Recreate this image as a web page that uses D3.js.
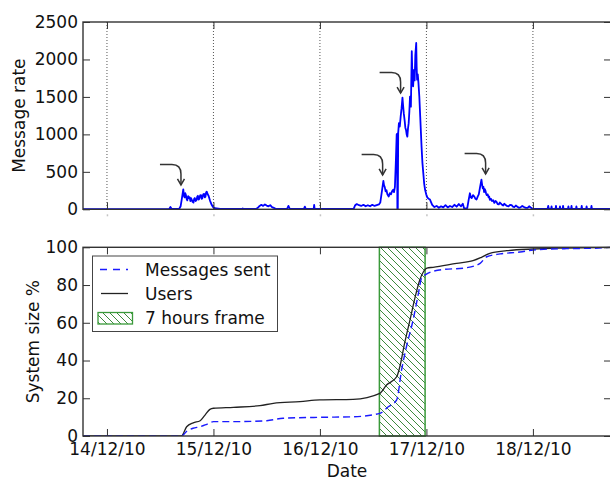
<!DOCTYPE html>
<html>
<head>
<meta charset="utf-8">
<script src="https://cdn.jsdelivr.net/npm/d3@7/dist/d3.min.js"></script>
<style>
  body { margin: 0; background: #fff; }
  svg { display: block; }
  text { font-family: "DejaVu Sans", sans-serif; fill: #111; }
</style>
</head>
<body>
<svg id="chart" width="610" height="480"></svg>
<script>
// Hours are counted from 14/12/10 00:00.
const dayTickLabels = ["14/12/10", "15/12/10", "16/12/10", "17/12/10", "18/12/10"];
const rateTicks = [0, 500, 1000, 1500, 2000, 2500];
const sizeTicks = [0, 20, 40, 60, 80, 100];
const timeSpan = [-5.4, 113.6];

// Message rate, [hour, messages]
const messageRate = [
  [-5.4, 2], [14.0, 2], [14.3, 30], [14.6, 4], [16.3, 8], [16.6, 40], [16.9, 150], [17.2, 267], [17.35, 180],
  [17.5, 160], [17.65, 215], [17.8, 190], [17.95, 140], [18.1, 120], [18.3, 175], [18.5, 150], [18.65, 160],
  [18.8, 110], [18.95, 150], [19.1, 130], [19.3, 100], [19.5, 90], [19.65, 140], [19.8, 150], [20.0, 110],
  [20.2, 125], [20.35, 170], [20.5, 180], [20.65, 130], [20.8, 140], [21.0, 185], [21.2, 190], [21.35, 140],
  [21.5, 150], [21.7, 200], [21.9, 205], [22.05, 160], [22.2, 170], [22.35, 225], [22.5, 235], [22.7, 200],
  [22.9, 180], [23.2, 120], [23.6, 60], [23.9, 30], [24.3, 15], [25.5, 4], [30.4, 4], [30.6, 12], [30.8, 4],
  [33.6, 5], [34.0, 20], [34.4, 45], [34.8, 60], [35.2, 45], [35.6, 65], [36.0, 50], [36.4, 40], [36.8, 55],
  [37.2, 30], [37.6, 20], [38.0, 6], [40.6, 5], [40.9, 45], [41.2, 5], [44.4, 5], [44.6, 35], [44.8, 5],
  [46.6, 5], [46.7, 60], [46.8, 5],
  [55.6, 5], [55.9, 50], [56.3, 70], [56.8, 55], [57.3, 45], [57.8, 60], [58.3, 40], [58.8, 55], [59.3, 40],
  [59.8, 60], [60.3, 45], [60.8, 55], [61.3, 65], [61.6, 90], [61.9, 214], [62.3, 380], [62.45, 320],
  [62.6, 300], [62.8, 240], [63.0, 255], [63.2, 200], [63.5, 170], [63.75, 215], [64.0, 200], [64.25, 240],
  [64.5, 260], [64.7, 230], [64.9, 300], [65.1, 620], [65.3, 1000], [65.4, 1010],
  [65.45, 0], [65.55, 0], [65.64, 1020], [65.8, 1150], [66.0, 1105], [66.2, 1240], [66.4, 1350], [66.6, 1490],
  [66.75, 1380], [66.9, 1280], [67.1, 1180], [67.25, 1090], [67.4, 1060], [67.55, 1000], [67.7, 970],
  [67.85, 1080], [68.0, 1150], [68.15, 1300], [68.3, 1505], [68.5, 1370], [68.7, 2110], [68.85, 1750],
  [69.0, 1640], [69.2, 1860], [69.35, 1720], [69.5, 2060], [69.7, 2220], [69.8, 1900], [69.9, 1730],
  [70.05, 1800], [70.2, 1690], [70.4, 1505], [70.6, 1240], [70.9, 840], [71.1, 620], [71.3, 480],
  [71.5, 340], [71.7, 260], [71.95, 200], [72.2, 160], [72.5, 140], [72.8, 130],
  [73.3, 60], [73.8, 30], [74.3, 45], [74.8, 20], [75.3, 40], [75.8, 25], [76.3, 55], [76.8, 25], [77.3, 45],
  [77.8, 30], [78.3, 60], [78.8, 35], [79.3, 70], [79.8, 40], [80.2, 75], [80.5, 10], [81.2, 15], [81.5, 120],
  [81.8, 214], [82.0, 160], [82.2, 150], [82.5, 190], [82.8, 170], [83.05, 140], [83.3, 130], [83.55, 170],
  [83.8, 200], [84.1, 300], [84.4, 395], [84.55, 330], [84.7, 280], [84.85, 300], [85.0, 230], [85.15, 270],
  [85.3, 250], [85.45, 210], [85.6, 190], [85.8, 200], [86.0, 160], [86.15, 170], [86.3, 125], [86.55, 140],
  [86.8, 110], [87.05, 120], [87.3, 85], [87.55, 110], [87.8, 100], [88.05, 70], [88.3, 65], [88.55, 90],
  [88.8, 75], [89.05, 60], [89.3, 50], [89.55, 75], [89.8, 60], [90.15, 45], [90.5, 40], [90.85, 60],
  [91.2, 55], [91.5, 35], [91.8, 30], [92.15, 50], [92.5, 35], [92.85, 20], [93.2, 25], [93.6, 45],
  [94.0, 30], [94.4, 20], [94.8, 20], [95.15, 40], [95.5, 25], [96.0, 5],
  [99.3, 5], [99.45, 45], [99.6, 5], [100.1, 5], [100.2, 40], [100.3, 5], [101.1, 5], [101.2, 45], [101.3, 5],
  [102.0, 5], [102.1, 40], [102.2, 5], [102.7, 5], [102.8, 45], [102.9, 5], [103.9, 5], [104.0, 40], [104.1, 5],
  [104.6, 5], [104.7, 45], [104.8, 5], [105.7, 5], [105.8, 40], [105.9, 5], [106.9, 5], [107.0, 45], [107.1, 5],
  [108.0, 5], [108.1, 40], [108.2, 5], [109.1, 5], [109.2, 45], [109.3, 5], [113.6, 5]
];

// Peaks pointed out by arrows, [hour, messages] at the arrow tip
const arrowTips = [[16.68, 325], [62.13, 459], [66.18, 1551], [85.34, 472]];

// Cumulative share of the system, [hour, percent]
const usersShare = [
  [-5.4, 0], [16.8, 0], [17.96, 4.9], [19.45, 7.0], [21.0, 8.1], [22.1, 11.1], [23.2, 14.1], [24.0, 14.7],
  [28.5, 15.2], [34.5, 16.1], [37.5, 17.3], [43.5, 18.2], [48.0, 19.1], [55.5, 19.4], [61.5, 22.6],
  [63.0, 27.0], [65.3, 31.4], [66.0, 36.6], [67.1, 49.3], [68.3, 61.5], [69.4, 73.1], [70.5, 82.7],
  [71.3, 86.9], [72.1, 89.0], [73.5, 89.4], [78.8, 91.5], [82.5, 92.9], [84.4, 94.7], [86.3, 96.8],
  [90.1, 98.2], [96.1, 99.1], [103.6, 99.6], [113.6, 100]
];
const messagesShare = [
  [-5.4, 0], [16.8, 0], [18.0, 2.5], [19.4, 4.1], [21.0, 4.9], [22.5, 6.2], [24.0, 7.6], [28.4, 7.6],
  [36.0, 8.1], [39.7, 9.4], [48.0, 9.9], [55.5, 10.2], [61.5, 12.0], [63.4, 15.5], [65.3, 19.1],
  [66.4, 35.0], [67.5, 47.3], [69.0, 61.5], [70.2, 75.6], [70.9, 83.6], [71.9, 85.7], [75.0, 88.0],
  [81.1, 89.2], [84.1, 91.5], [85.6, 95.0], [88.6, 96.5], [93.1, 97.5], [96.1, 98.6], [103.6, 99.3],
  [109.5, 99.5], [113.6, 100]
];

// Hatched observation window, [start hour, end hour]
const frameWindow = [61.4, 71.7];
const legendLabels = ["Messages sent", "Users", "7 hours frame"];

const origin = new Date(2010, 11, 14, 0, 0, 0).getTime();
const toDate = h => new Date(origin + h * 3600000);
const parseDay = d3.timeParse("%d/%m/%y");
const dayTicks = dayTickLabels.map(parseDay);
const fmtDay = d3.timeFormat("%d/%m/%y");
const fmtNum = d3.format("d");

const svg = d3.select("#chart");
const left = 83, right = 611;
const top1 = 22, bottom1 = 209.3;
const top2 = 247.3, bottom2 = 436;
const FS = 17;
const axisColor = "#333";

const x = d3.scaleTime().domain(timeSpan.map(toDate)).range([left, right]);
const yRate = d3.scaleLinear().domain([0, 2500]).range([bottom1, top1]);
const ySize = d3.scaleLinear().domain([0, 100]).range([bottom2, top2]);

const defs = svg.append("defs");
defs.append("clipPath").attr("id", "clip1").append("rect")
  .attr("x", left).attr("y", top1 - 2).attr("width", right - left).attr("height", bottom1 - top1 + 2);
defs.append("clipPath").attr("id", "clip2").append("rect")
  .attr("x", left).attr("y", top2 - 1).attr("width", right - left).attr("height", bottom2 - top2 + 1);
const hatch = defs.append("pattern").attr("id", "hatch")
  .attr("patternUnits", "userSpaceOnUse").attr("width", 7).attr("height", 7);
hatch.append("path").attr("d", "M0,0 L7,7 M-1,6 L1,8 M6,-1 L8,1")
  .attr("stroke", "#3d8a3d").attr("stroke-width", 1).attr("fill", "none");

function styleAxis(g) {
  g.select(".domain").remove();
  g.selectAll(".tick line").attr("stroke", axisColor).attr("stroke-width", 1);
  g.selectAll(".tick text").attr("font-size", FS).attr("fill", "#111")
    .attr("font-family", "DejaVu Sans, sans-serif");
}

function panelAxes(y, ticks, top, bottom, showX) {
  svg.append("g").attr("transform", `translate(${left},0)`)
    .call(d3.axisLeft(y).tickValues(ticks).tickSize(-7).tickPadding(5).tickFormat(fmtNum)).call(styleAxis);
  svg.append("g").attr("transform", `translate(${right},0)`)
    .call(d3.axisRight(y).tickValues(ticks).tickSize(-7).tickFormat(() => "")).call(styleAxis);
  svg.append("g").attr("transform", `translate(0,${top})`)
    .call(d3.axisTop(x).tickValues(dayTicks).tickSize(-7).tickFormat(() => "")).call(styleAxis);
  const bx = svg.append("g").attr("transform", `translate(0,${bottom})`)
    .call(d3.axisBottom(x).tickValues(dayTicks).tickSize(-7).tickPadding(7)
      .tickFormat(showX ? fmtDay : () => "")).call(styleAxis);
  if (!showX) {
    // faint stubs where the hidden tick labels sit
    bx.selectAll(".tick").append("line")
      .attr("x1", 0).attr("x2", 0).attr("y1", 5).attr("y2", 7)
      .attr("stroke", "#c4c4c4").attr("stroke-width", 1.5);
  }
  svg.append("rect").attr("x", left).attr("y", top).attr("width", right - left).attr("height", bottom - top)
    .attr("fill", "none").attr("stroke", axisColor).attr("stroke-width", 1.4);
}

// ---- Upper panel: message rate ----
svg.append("g").selectAll("line").data(dayTicks).join("line")
  .attr("x1", d => x(d)).attr("x2", d => x(d)).attr("y1", top1).attr("y2", bottom1)
  .attr("stroke", "#555").attr("stroke-width", 1).attr("stroke-dasharray", "1,2");

svg.append("path").datum(messageRate)
  .attr("clip-path", "url(#clip1)")
  .attr("fill", "none").attr("stroke", "#0000ff").attr("stroke-width", 1.8).attr("stroke-linejoin", "round")
  .attr("d", d3.line().x(d => x(toDate(d[0]))).y(d => yRate(d[1])));

panelAxes(yRate, rateTicks, top1, bottom1, false);

// curved arrows pointing at the peaks
const arrows = svg.append("g").attr("fill", "none").attr("stroke", "#333").attr("stroke-width", 1.5);
arrowTips.forEach(([h, v]) => {
  const tx = x(toDate(h)), ty = yRate(v);
  arrows.append("path")
    .attr("d", `M${tx - 21},${ty - 20.5} L${tx - 9},${ty - 20.5} Q${tx},${ty - 20.5} ${tx},${ty - 11} L${tx},${ty}`);
  arrows.append("path")
    .attr("d", `M${tx - 3.5},${ty - 6} L${tx},${ty} L${tx + 3.5},${ty - 6}`);
});

svg.append("text").attr("transform", `translate(25,${(top1 + bottom1) / 2}) rotate(-90)`)
  .attr("text-anchor", "middle").attr("font-size", FS).text("Message rate");

// ---- Lower panel: system size ----
svg.append("rect")
  .attr("x", x(toDate(frameWindow[0]))).attr("y", top2)
  .attr("width", x(toDate(frameWindow[1])) - x(toDate(frameWindow[0]))).attr("height", bottom2 - top2)
  .attr("fill", "url(#hatch)").attr("stroke", "#3a9a3a").attr("stroke-width", 1.5);

const sizeLine = d3.line().x(d => x(toDate(d[0]))).y(d => ySize(d[1])).curve(d3.curveMonotoneX);
svg.append("path").datum(usersShare).attr("clip-path", "url(#clip2)")
  .attr("fill", "none").attr("stroke", "#222").attr("stroke-width", 1.3).attr("d", sizeLine);
svg.append("path").datum(messagesShare).attr("clip-path", "url(#clip2)")
  .attr("fill", "none").attr("stroke", "#1a1aff").attr("stroke-width", 1.4)
  .attr("stroke-dasharray", "7,4").attr("d", sizeLine);

panelAxes(ySize, sizeTicks, top2, bottom2, true);

svg.append("text").attr("transform", `translate(38.5,${(top2 + bottom2) / 2}) rotate(-90)`)
  .attr("text-anchor", "middle").attr("font-size", FS).text("System size %");
svg.append("text").attr("x", (left + right) / 2).attr("y", 477)
  .attr("text-anchor", "middle").attr("font-size", FS).text("Date");

// legend
const lg = svg.append("g");
lg.append("rect").attr("x", 92.5).attr("y", 256).attr("width", 185).attr("height", 75.5)
  .attr("fill", "#fff").attr("stroke", "#444").attr("stroke-width", 1);
const rowY = [269.5, 293.5, 318];
lg.append("line").attr("x1", 100).attr("x2", 128).attr("y1", rowY[0]).attr("y2", rowY[0])
  .attr("stroke", "#1a1aff").attr("stroke-width", 1.4).attr("stroke-dasharray", "7,6");
lg.append("line").attr("x1", 101).attr("x2", 128).attr("y1", rowY[1]).attr("y2", rowY[1])
  .attr("stroke", "#222").attr("stroke-width", 1.3);
lg.append("rect").attr("x", 98).attr("y", rowY[2] - 5.5).attr("width", 34.5).attr("height", 11.5)
  .attr("fill", "url(#hatch)").attr("stroke", "#3a9a3a").attr("stroke-width", 1.3);
lg.selectAll("text.lab").data(legendLabels).join("text").attr("class", "lab")
  .attr("x", 145).attr("y", (d, i) => rowY[i] + 6).attr("font-size", FS).text(d => d);
</script>
</body>
</html>
